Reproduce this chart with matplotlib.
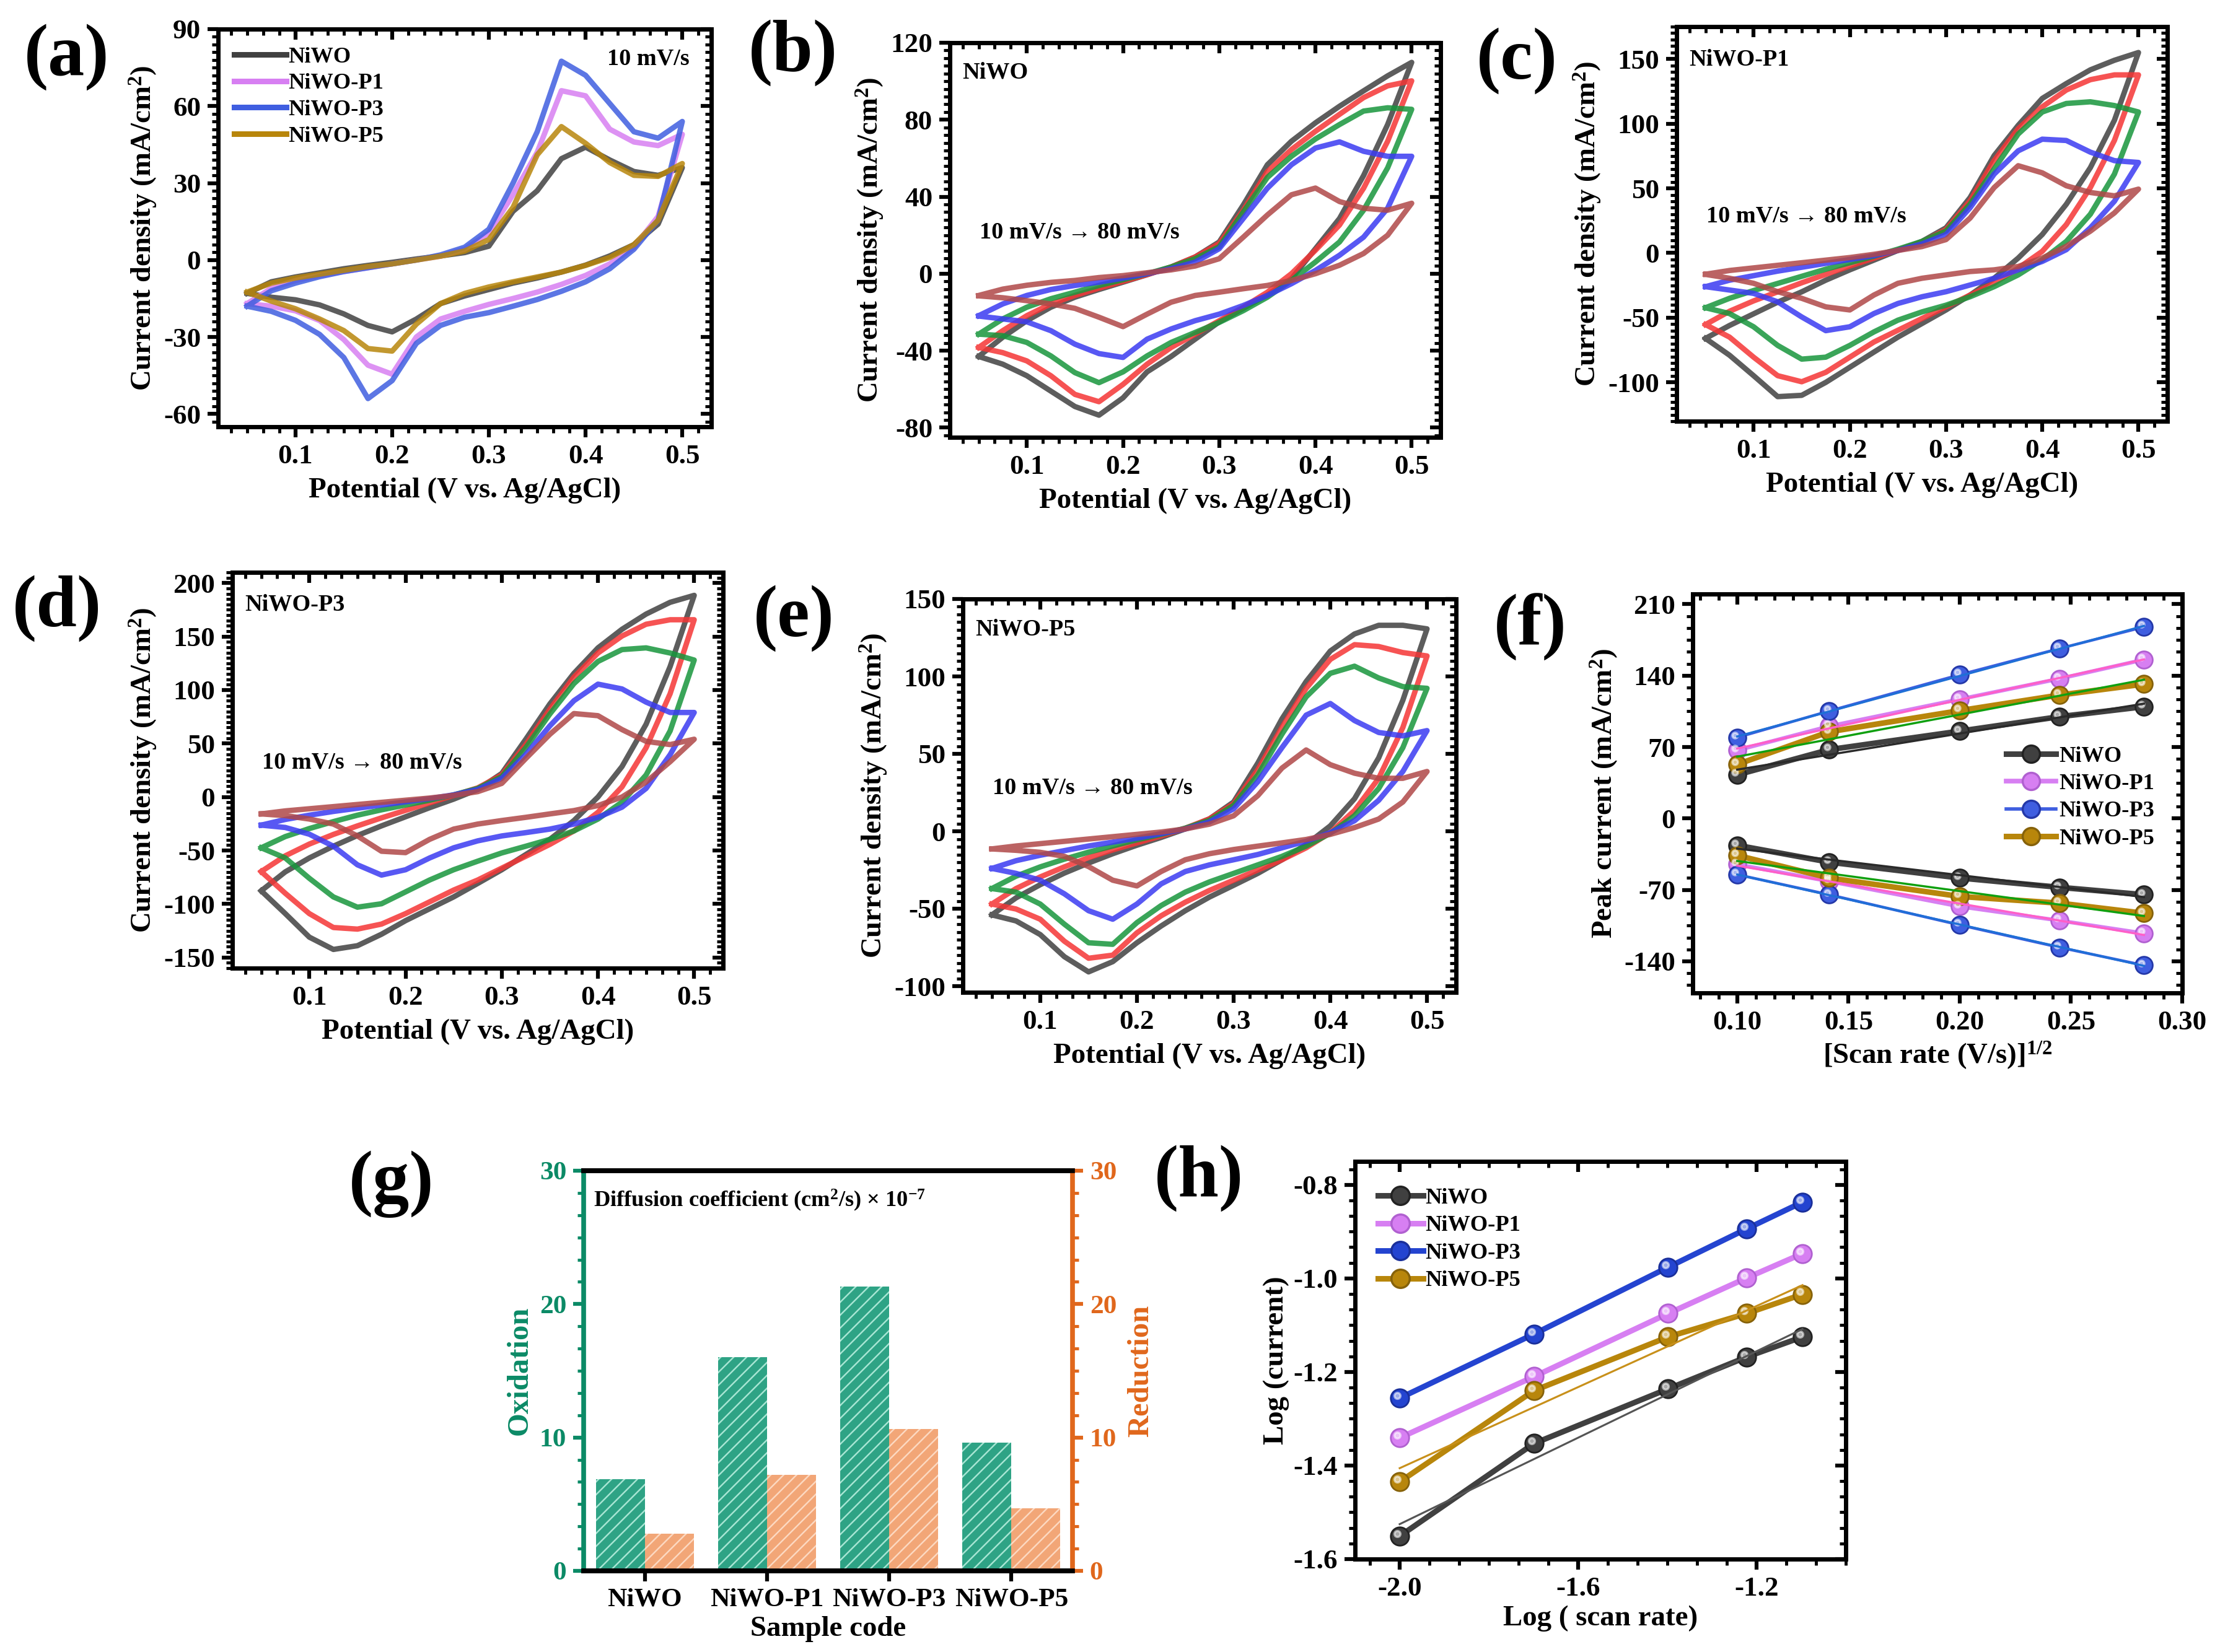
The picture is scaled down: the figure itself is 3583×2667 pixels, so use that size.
import numpy as np
import matplotlib
matplotlib.use("Agg")
import matplotlib.pyplot as plt
import matplotlib.transforms as mtransforms
from matplotlib.lines import Line2D
from matplotlib.ticker import MultipleLocator, AutoMinorLocator

plt.rcParams.update({
    "font.family": ["Liberation Serif", "DejaVu Serif"],
    "font.weight": "bold",
    "axes.labelweight": "bold",
    "axes.unicode_minus": False,
    "mathtext.fontset": "custom",
    "mathtext.rm": "Liberation Serif:bold",
    "mathtext.bf": "Liberation Serif:bold",
    "mathtext.it": "Liberation Serif:italic:bold",
    "mathtext.default": "rm",
    "hatch.linewidth": 0.7,
})

# ---------------- data ----------------
# potential grid (V vs. Ag/AgCl); *_up = forward sweep, *_dn = reverse sweep
E = [0.05, 0.075, 0.10, 0.125, 0.15, 0.175, 0.20, 0.225, 0.25, 0.275,
     0.30, 0.325, 0.35, 0.375, 0.40, 0.425, 0.45, 0.475, 0.50]

samples = ["NiWO", "NiWO-P1", "NiWO-P3", "NiWO-P5"]
sample_colors = ["#404040", "#d77ff2", "#3f5ee0", "#b8860b"]

# (a) all samples at 10 mV/s
a_niwo_up = [-13, -8.5, -6.6, -5, -3.4, -2.1, -0.9, 0.4, 1.6, 2.9, 5.4, 19, 27, 39.5, 44, 39, 34.5, 33, 36]
a_niwo_dn = [-13, -14.5, -15.5, -17.5, -21, -25.5, -28, -23, -17, -14, -11.5, -9, -7, -4.7, -2, 1.6, 6, 14, 36]
a_p1_up = [-17, -11, -8, -6, -4.5, -3, -1.5, 0, 1.5, 4.2, 10.5, 25.5, 42, 66, 64, 51, 46, 44.6, 49]
a_p1_dn = [-17, -18, -19.8, -23.6, -31, -41, -44.5, -30, -23, -20, -17.3, -15, -12.5, -9.5, -6, -1.5, 5, 17, 49]
a_p3_up = [-18, -12, -9, -6.5, -4.5, -3, -1.5, 0, 2, 5, 12, 30, 50, 77.5, 72, 61, 50, 47.5, 54]
a_p3_dn = [-18, -20, -23.5, -29, -38, -54, -47, -32.5, -25.5, -22.3, -20.5, -18, -15.4, -12.2, -8.5, -3.4, 4.2, 15.5, 54]
a_p5_up = [-12.5, -9, -7, -5.5, -4, -2.5, -1.5, 0, 1.5, 3.5, 8, 20.5, 41, 52, 45.5, 38, 33, 32.6, 37.6]
a_p5_dn = [-12.5, -16, -19, -23, -27.5, -34.5, -35.5, -25, -17, -13, -10.5, -8.5, -6.6, -4.7, -2.1, 1, 6, 15.5, 37.6]

rates = [10, 20, 40, 60, 80]  # mV/s
rate_colors = ["#b04848", "#3b3bf2", "#17963c", "#f53535", "#404040"]

# (b) NiWO
b10_up = [-11.3, -8, -6, -4.5, -3.5, -2, -1, 0.5, 2, 4, 7.8, 19, 30.5, 41, 44.5, 37.5, 34, 33, 36.6]
b10_dn = [-11.5, -12.5, -14, -15.7, -18, -22.6, -27.5, -21, -14.8, -11.3, -9.6, -7.8, -6.1, -3.5, 0, 4.4, 10.5, 20, 36.6]
b20_up = [-21.8, -15.7, -11.3, -8.2, -6.1, -4.4, -2.3, 0, 2.6, 6, 13, 28.7, 44.4, 56.6, 65.3, 68.5, 63.6, 61, 61]
b20_dn = [-22, -23.5, -25, -29.6, -36.6, -41.5, -43.5, -34, -28.7, -24.4, -21, -16.5, -11.3, -5.2, 1.7, 9.6, 19, 34, 61]
b40_up = [-31.4, -23.5, -17.4, -13, -9.6, -6.1, -3.1, 0, 3.5, 7.8, 14, 32, 50, 61, 70, 77.5, 84.5, 86.2, 85.4]
b40_dn = [-31.4, -32.2, -35.7, -42.7, -51.4, -56.6, -51, -42.7, -35.7, -30.5, -25.3, -19.2, -12.2, -3.5, 6.1, 16.5, 33, 55, 85.4]
b60_up = [-38.3, -29.6, -21.8, -15.7, -11.3, -7.5, -4, -0.5, 3.5, 8.7, 15.7, 33, 53, 64.5, 74, 82.8, 91.5, 97.6, 100.2]
b60_dn = [-38.3, -41, -45.3, -53, -62.7, -66.5, -57.5, -47, -38.3, -31.4, -24.4, -17.4, -9.6, 0, 12.2, 25.3, 44.4, 68.8, 100.2]
b80_up = [-43, -33, -24.4, -17.4, -12.2, -8.2, -4.4, -0.5, 3.5, 8.7, 16.5, 35.7, 56.6, 68.8, 78.4, 87, 95, 102.8, 109.8]
b80_dn = [-43, -47, -53, -61, -69, -73.5, -64.5, -51, -43, -34, -25, -18, -11, -2.6, 13, 28.7, 51, 77.5, 109.8]

# (c) NiWO-P1
c10_up = [-16.4, -13.5, -11.5, -9.5, -7.5, -5.5, -3.5, -1, 2, 5, 10.4, 27, 50.6, 67.5, 62, 52, 46.8, 44.2, 49.4]
c10_dn = [-16.5, -19.5, -23.4, -29.9, -35, -41.6, -44, -32.5, -23.4, -19.5, -16.9, -14.3, -13, -10.4, -3.9, 5.2, 16.9, 31, 49.4]
c20_up = [-26, -21, -17.5, -14, -11, -8, -5, -2, 2, 7, 14.3, 35, 61, 79, 88, 87, 78, 71.4, 70]
c20_dn = [-26, -28.6, -31.2, -37.7, -49.4, -60, -57, -46.8, -39, -33.8, -29.9, -24.7, -19.5, -13, -6.5, 2.6, 19.5, 40, 70]
c40_up = [-42.3, -35, -29, -23.5, -18, -12.5, -7.5, -2.5, 3, 9, 17, 37.7, 65, 92, 109, 115.6, 116.9, 114, 109]
c40_dn = [-42.3, -46.8, -57, -71.4, -82, -80.5, -71.4, -61, -51.9, -45.5, -40.3, -33.8, -26, -16.9, -5.2, 9, 30, 61, 109]
c60_up = [-55.3, -45, -37, -30, -23, -16.5, -10, -4, 2.5, 8.5, 18.2, 40.3, 71.4, 96, 113, 126, 134, 137.7, 137.7]
c60_dn = [-55.3, -65, -80.5, -94.8, -99.5, -92.2, -80.5, -68.8, -59.7, -50.6, -41.6, -32.5, -23.4, -11.7, 1.3, 22, 50.6, 87, 137.7]
c80_up = [-66, -56, -47, -38, -30, -21, -13, -5.5, 2, 9, 19.5, 42.9, 75.3, 98.7, 119.5, 131, 141.6, 149, 155]
c80_dn = [-66, -79, -94.8, -111, -110, -100, -88.3, -76.6, -65, -54.5, -44, -32.5, -19.5, -3.9, 14.3, 37.7, 66, 102.6, 155]

# (d) NiWO-P3
d10_up = [-15.8, -13, -11, -9, -7, -5, -3, -1, 1.5, 5, 12.7, 36, 58.6, 78, 76, 63, 52, 49, 54]
d10_dn = [-15.8, -17.4, -20.6, -25.3, -36.4, -50.7, -52, -39.6, -30, -25.3, -22, -19, -15.8, -12.7, -8, 0, 14, 33, 54]
d20_up = [-26.3, -21, -17, -13.5, -10.5, -7.5, -4.5, -1.5, 2, 7, 17.4, 39.6, 66.5, 90, 105.5, 101, 88.7, 79, 79]
d20_dn = [-26.3, -28.5, -34.8, -46, -63.4, -73, -68, -57, -47.5, -41, -36.4, -33.3, -30, -25.3, -19, -9.5, 8, 39.6, 79]
d40_up = [-47.5, -37, -29.5, -23, -17, -12, -7.5, -3, 2, 8, 19, 46, 77.6, 106, 126.7, 137.8, 139.4, 134.6, 128]
d40_dn = [-47.5, -57, -76, -93.4, -103, -99.8, -88.7, -77.6, -68, -60, -52.3, -46, -39.6, -31.7, -20.6, -4.8, 20.6, 61.8, 128]
d60_up = [-69.7, -55, -44, -35, -27, -19.5, -12.5, -5.5, 1.5, 8.5, 20.6, 49, 82, 112, 134.6, 150.5, 161.5, 165.7, 165.7]
d60_dn = [-69.7, -90, -109, -122, -123.5, -118.8, -109, -98, -87, -77.6, -66.5, -55.4, -44.3, -31.7, -14.3, 9.5, 46, 96.6, 165.7]
d80_up = [-87.7, -70, -57, -46, -36, -27, -18.5, -10, -2, 7, 22, 54, 87, 115.6, 139.4, 156.8, 171, 182, 188.5]
d80_dn = [-87.7, -109, -131, -142.5, -139, -128.3, -115.6, -104.5, -93.4, -80.8, -68, -53.8, -39.6, -22, 0, 28.5, 68, 122, 188.5]

# (e) NiWO-P5
e10_up = [-11.4, -9.5, -8, -6.5, -5, -3.5, -2, -0.5, 1.5, 4.6, 10, 23, 40.8, 52.5, 43, 37.5, 34.2, 34.2, 38.6]
e10_dn = [-11.4, -12.3, -13.6, -16.2, -22.8, -31.6, -35.3, -26, -18.4, -14.5, -11.8, -9.6, -7.5, -5.3, -2, 2.4, 7.9, 18.9, 38.6]
e20_up = [-24, -19, -15.5, -12.5, -9.5, -7, -4.5, -1.5, 1.5, 6, 14.5, 32, 54, 75, 82.5, 71.5, 63.8, 61.6, 65]
e20_dn = [-24, -27.2, -31.6, -40.4, -51.3, -56.8, -47, -34, -26, -21.7, -18.4, -15, -10.7, -6.4, -0.9, 6.8, 20, 38.6, 65]
e40_up = [-37, -29, -23, -18, -13.5, -9.5, -5.5, -2, 2, 7, 16.7, 36.4, 62.7, 86.8, 102, 106.6, 99, 93.4, 92.3]
e40_dn = [-37, -39.3, -47, -60, -72, -73, -59, -48, -39.3, -32.7, -27.2, -21.7, -16.2, -9.6, -1.3, 10, 27.6, 54, 92.3]
e60_up = [-47, -37, -29.5, -23, -17, -12, -7.5, -3, 2, 8, 17.8, 39.7, 67, 92.3, 111, 120.5, 119.3, 115.4, 113.2]
e60_dn = [-47, -50.2, -56.8, -71, -82, -80, -65.6, -54.6, -45.8, -38.2, -31.6, -25, -18.4, -10.7, -0.9, 13.4, 34.2, 67, 113.2]
e80_up = [-54, -43, -34.5, -27, -20.5, -14.5, -9, -4, 1.5, 8, 18.9, 44, 72.6, 96.7, 116.4, 127.4, 133, 133, 130.7]
e80_dn = [-54, -57.9, -66.7, -81, -90.8, -84.2, -72, -61.2, -51.3, -42.5, -34.9, -27.2, -18.4, -8.6, 3.5, 21, 47.4, 84.6, 130.7]

# (f) peak current vs sqrt(scan rate)
sqrt_rate = [0.1, 0.1414, 0.2, 0.2449, 0.2828]
f_ox_niwo = [42.8, 67.5, 85.6, 99.8, 109.6]
f_ox_p1 = [66.8, 90.5, 116.9, 137.0, 155.7]
f_ox_p3 = [79.4, 105.4, 140.9, 166.6, 187.7]
f_ox_p5 = [53.0, 85.0, 105.7, 121.0, 131.7]
f_red_niwo = [-26.3, -42.8, -58.3, -67.5, -74.7]
f_red_p1 = [-45.0, -61.6, -86.3, -100.1, -112.6]
f_red_p3 = [-55.0, -74.7, -104.4, -126.4, -143.9]
f_red_p5 = [-36.2, -58.3, -76.4, -83.0, -92.9]

# (g) diffusion coefficient (cm2/s x 1e-7)
codes = ["NiWO", "NiWO-P1", "NiWO-P3", "NiWO-P5"]
d_ox = [6.85, 16.0, 21.3, 9.6]
d_red = [2.8, 7.2, 10.65, 4.7]

# (h) log(current) vs log(scan rate)
log_rate = [-2.0, -1.699, -1.398, -1.222, -1.097]
h_niwo = [-1.551, -1.353, -1.236, -1.168, -1.125]
h_p1 = [-1.341, -1.210, -1.075, -0.999, -0.947]
h_p3 = [-1.256, -1.119, -0.976, -0.894, -0.837]
h_p5 = [-1.435, -1.240, -1.125, -1.075, -1.034]

# ---------------- figure ----------------
W, H = 3583, 2667
DPI = 250
fig = plt.figure(figsize=(W / DPI, H / DPI), dpi=DPI)


def add_box(l, t, r, b):
    # pixel box of the reference -> figure fraction
    return fig.add_axes([l / W, 1 - b / H, (r - l) / W, (b - t) / H])


def ticks(ax, xmaj, xn, ymaj, yn, mirror=True):
    ax.xaxis.set_major_locator(MultipleLocator(xmaj))
    ax.xaxis.set_minor_locator(AutoMinorLocator(xn))
    ax.yaxis.set_major_locator(MultipleLocator(ymaj))
    ax.yaxis.set_minor_locator(AutoMinorLocator(yn))
    ax.tick_params(which="major", direction="out", length=5, width=1.8, labelsize=13, pad=3)
    ax.tick_params(which="minor", direction="out", length=3, width=1.4)
    for s in ax.spines.values():
        s.set_linewidth(2)
    if mirror:
        top = ax.secondary_xaxis("top")
        right = ax.secondary_yaxis("right")
        top.xaxis.set_major_locator(MultipleLocator(xmaj))
        top.xaxis.set_minor_locator(AutoMinorLocator(xn))
        right.yaxis.set_major_locator(MultipleLocator(ymaj))
        right.yaxis.set_minor_locator(AutoMinorLocator(yn))
        for sec in (top, right):
            sec.tick_params(which="major", direction="in", length=5, width=1.8,
                            labeltop=False, labelright=False)
            sec.tick_params(which="minor", direction="in", length=3, width=1.4)
            for s in sec.spines.values():
                s.set_linewidth(2)


def cv_panel(box, ups, dns, colors, ylim, ymaj):
    ax = add_box(*box)
    for up, dn, c in zip(ups, dns, colors):
        ax.plot(E + E[::-1], up + dn[::-1], color=c, lw=2.5, alpha=0.85,
                solid_joinstyle="round")
    ax.set_xlim(0.02, 0.53)
    ax.set_ylim(*ylim)
    ticks(ax, 0.1, 6, ymaj, 10)
    ax.set_xlabel("Potential (V vs. Ag/AgCl)", fontsize=13.5, labelpad=4)
    ax.set_ylabel("Current density (mA/cm$^{2}$)", fontsize=13.5, labelpad=2)
    return ax


# (a)
ax = cv_panel((352, 47, 1148, 689),
              [a_niwo_up, a_p1_up, a_p3_up, a_p5_up],
              [a_niwo_dn, a_p1_dn, a_p3_dn, a_p5_dn],
              sample_colors, (-65, 90), 30)
hd = [Line2D([], [], color=c, lw=2.6) for c in sample_colors]
ax.legend(hd, samples, loc="upper left", bbox_to_anchor=(0.005, 0.99), frameon=False,
          fontsize=10.5, handlelength=2.3, handletextpad=0.1, labelspacing=0.25,
          borderaxespad=0.2)
ax.text(0.955, 0.925, "10 mV/s", transform=ax.transAxes, fontsize=11,
        ha="right", va="center")

# (b)-(e)
arrow_text = "10 mV/s \u2192 80 mV/s"
cv_sets = [
    ((1533, 69, 2325, 706), [b10_up, b20_up, b40_up, b60_up, b80_up],
     [b10_dn, b20_dn, b40_dn, b60_dn, b80_dn], (-85, 120), 40, "NiWO", 0.925, 0.52),
    ((2706, 43, 3498, 680), [c10_up, c20_up, c40_up, c60_up, c80_up],
     [c10_dn, c20_dn, c40_dn, c60_dn, c80_dn], (-130, 175), 50, "NiWO-P1", 0.917, 0.52),
    ((375, 924, 1167, 1563), [d10_up, d20_up, d40_up, d60_up, d80_up],
     [d10_dn, d20_dn, d40_dn, d60_dn, d80_dn], (-160, 210), 50, "NiWO-P3", 0.919, 0.52),
    ((1554, 967, 2350, 1602), [e10_up, e20_up, e40_up, e60_up, e80_up],
     [e10_dn, e20_dn, e40_dn, e60_dn, e80_dn], (-104, 150), 50, "NiWO-P5", 0.923, 0.52),
]
for box, ups, dns, ylim, ymaj, name, ny, ay in cv_sets:
    ax = cv_panel(box, ups[::-1], dns[::-1], rate_colors[::-1], ylim, ymaj)
    ax.text(0.025, ny, name, transform=ax.transAxes, fontsize=11, va="center")
    ax.text(0.06, ay, arrow_text, transform=ax.transAxes, fontsize=11, va="center")

# (f)
ax = add_box(2732, 959, 3522, 1603)
f_ox = [f_ox_niwo, f_ox_p1, f_ox_p3, f_ox_p5]
f_red = [f_red_niwo, f_red_p1, f_red_p3, f_red_p5]
f_lw = [2.6, 1.8, 1.3, 2.6]
f_fit_colors = ["#2a2a2a", "#ff5fc8", "#1f6fd6", "#10a010"]
edge_colors = ["#222222", "#b060d0", "#2438a8", "#86620a"]
glint = mtransforms.offset_copy(ax.transData, fig=fig, x=-1.1, y=1.1, units="points")
xs = np.array(sqrt_rate)
for ys_list in (f_ox, f_red):
    for ys, c, lw, fc, ec in zip(ys_list, sample_colors, f_lw, f_fit_colors, edge_colors):
        ax.plot(sqrt_rate, ys, "-", color=c, lw=lw, marker="o", ms=8, mfc=c,
                mec=ec, mew=0.8, zorder=3)
        ax.plot(sqrt_rate, ys, "o", ms=2.6, color="white", alpha=0.55,
                transform=glint, zorder=4)
        k, b0 = np.polyfit(xs, ys, 1)
        ends = xs[[0, -1]]
        ax.plot(ends, k * ends + b0, color=fc, lw=1.0, zorder=5)
ax.set_xlim(0.08, 0.30)
ax.set_ylim(-171, 220)
ticks(ax, 0.05, 6, 70, 6)
ax.set_xlabel("[Scan rate (V/s)]$^{1/2}$", fontsize=13.5, labelpad=2)
ax.set_ylabel("Peak current (mA/cm$^{2}$)", fontsize=13.5, labelpad=2)
hd = [Line2D([], [], color=c, lw=lw, marker="o", ms=8, mfc=c, mec=ec)
      for c, lw, ec in zip(sample_colors, [2.6, 2.2, 1.6, 2.6], edge_colors)]
ax.legend(hd, samples, loc="center right", bbox_to_anchor=(0.985, 0.49), frameon=False,
          fontsize=10.5, handlelength=2.2, handletextpad=0.15, labelspacing=0.3)

# (g)
green, orange = "#0b8a66", "#e0671c"
ax = add_box(942, 1890, 1731, 2536)
x = np.arange(len(codes))
ax.bar(x - 0.2, d_ox, 0.4, color="#2ea385", edgecolor="#a8e6d4", hatch="////",
       linewidth=0, zorder=2)
ax2 = ax.twinx()
ax2.bar(x + 0.2, d_red, 0.4, color="#f2a677", edgecolor="#fcd9c2", hatch="////",
        linewidth=0, zorder=2)
ax.set_xlim(-0.5, 3.5)
ax.set_ylim(0, 30)
ax2.set_ylim(0, 30)
ax.set_xticks(x, codes)
ax.tick_params(axis="x", length=5, width=1.8, labelsize=12.5, pad=3)
for a, col in ((ax, green), (ax2, orange)):
    a.yaxis.set_major_locator(MultipleLocator(10))
    a.yaxis.set_minor_locator(AutoMinorLocator(6))
    a.tick_params(axis="y", which="major", direction="out", length=5, width=1.8,
                  colors=col, labelsize=12.5, pad=3)
    a.tick_params(axis="y", which="minor", direction="out", length=3, width=1.4,
                  colors=col)
    for s in a.spines.values():
        s.set_linewidth(2.2)
ax.spines["left"].set_color(green)
ax.spines["right"].set_visible(False)
ax2.spines["right"].set_color(orange)
ax2.spines["left"].set_visible(False)
ax.set_ylabel("Oxidation", color=green, fontsize=14, labelpad=3)
ax2.set_ylabel("Reduction", color=orange, fontsize=14, labelpad=5)
ax.set_xlabel("Sample code", fontsize=13.5, labelpad=2)
ax.text(0.02, 0.926, "Diffusion coefficient (cm$^{2}$/s) \u00d7 10$^{-7}$",
        transform=ax.transAxes, fontsize=10.5, va="center")

# (h)
ax = add_box(2187, 1875, 2979, 2517)
h_sets = [h_niwo, h_p1, h_p3, h_p5]
h_colors = ["#404040", "#d77ff2", "#2444d0", "#b8860b"]
h_edges = ["#222222", "#b060d0", "#1a2f9a", "#86620a"]
h_fit = ["#555555", None, None, "#c8901a"]
glint = mtransforms.offset_copy(ax.transData, fig=fig, x=-1.2, y=1.2, units="points")
lx = np.array(log_rate)
for ys, c, ec, fc in zip(h_sets, h_colors, h_edges, h_fit):
    ax.plot(log_rate, ys, "-", color=c, lw=2.6, marker="o", ms=8.5, mfc=c, mec=ec,
            mew=0.8, zorder=3)
    ax.plot(log_rate, ys, "o", ms=2.8, color="white", alpha=0.55, transform=glint,
            zorder=4)
    if fc:
        k, b0 = np.polyfit(lx, ys, 1)
        ends = lx[[0, -1]]
        ax.plot(ends, k * ends + b0, color=fc, lw=0.9, zorder=5)
ax.set_xlim(-2.1, -1.0)
ax.set_ylim(-1.6, -0.75)
ticks(ax, 0.4, 6, 0.2, 6)
ax.set_xlabel("Log ( scan rate)", fontsize=13.5, labelpad=2)
ax.set_ylabel("Log (current)", fontsize=13.5, labelpad=2)
hd = [Line2D([], [], color=c, lw=2.6, marker="o", ms=8.5, mfc=c, mec=ec)
      for c, ec in zip(h_colors, h_edges)]
ax.legend(hd, samples, loc="upper left", bbox_to_anchor=(0.005, 0.985), frameon=False,
          fontsize=10.5, handlelength=2.0, handletextpad=0.1, labelspacing=0.3)

# panel letters
letter_pos = [(108, 92), (1280, 85), (2448, 98), (92, 982),
              (1281, 998), (2470, 1012), (632, 1912), (1935, 1902)]
for lab, (px, py) in zip("abcdefgh", letter_pos):
    fig.text(px / W, 1 - py / H, f"({lab})", fontsize=34, fontweight="bold",
             ha="center", va="center")

fig.savefig("out.png", dpi=DPI, facecolor="white")
